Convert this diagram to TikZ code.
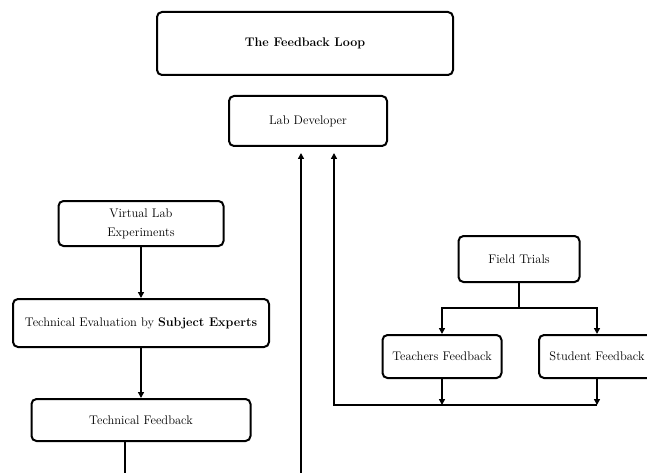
\documentclass[tikz,border=0pt]{standalone}
\usetikzlibrary{arrows.meta,calc}
\begin{document}
\begin{tikzpicture}[x=1pt,y=-1pt,
  box/.style={draw,line width=2pt,rounded corners=5pt,inner sep=0pt,align=center,
    font=\fontsize{12.5}{21}\selectfont},
  conn/.style={line width=1.6pt},
  arr/.style={conn,-{Triangle[width=6pt,length=6pt]}}]
\useasboundingbox (0,0) rectangle (647,473);
% nodes
\node[box,minimum width=296pt,minimum height=63pt,font=\fontsize{12.5}{14}\selectfont\bfseries] (title) at (305,43.5) {The Feedback Loop};
\node[box,minimum width=158pt,minimum height=50pt] (ld) at (308,121) {Lab Developer};
\node[box,minimum width=165pt,minimum height=45pt] (vle) at (141,223.5) {Virtual Lab\\[-2pt]Experiments};
\node[box,minimum width=256pt,minimum height=48pt] (te) at (141,323) {Technical Evaluation by \textbf{Subject Experts}};
\node[box,minimum width=219pt,minimum height=42pt] (tf) at (141,420) {Technical Feedback};
\node[box,minimum width=121pt,minimum height=46pt] (ft) at (519,259) {Field Trials};
\node[box,minimum width=119pt,minimum height=43pt] (tch) at (442,356.5) {Teachers Feedback};
\node[box,minimum width=116pt,minimum height=43pt] (stu) at (597,356.5) {Student Feedback};
% coordinates
\coordinate (b1) at (301,480);
\coordinate (tfend) at (125,480);
\coordinate (split) at (519,308);
\coordinate (bus) at (334,405);
% connectors
\draw[arr] (vle.south) -- (te.north);
\draw[arr] (te.south) -- (tf.north);
\draw[conn] (tf.south -| tfend) -- (tfend);
\draw[arr,shorten >=6pt] (b1) -- (b1 |- ld.south);
\draw[conn] (ft.south) -- (split);
\draw[arr] (split) -| (tch.north);
\draw[arr] (split) -| (stu.north);
\draw[arr] (tch.south) -- (tch.south |- bus);
\draw[arr] (stu.south) -- (stu.south |- bus);
\draw[arr,shorten >=6pt] (stu.south |- bus) -- (bus) -- (bus |- ld.south);
\end{tikzpicture}
\end{document}
